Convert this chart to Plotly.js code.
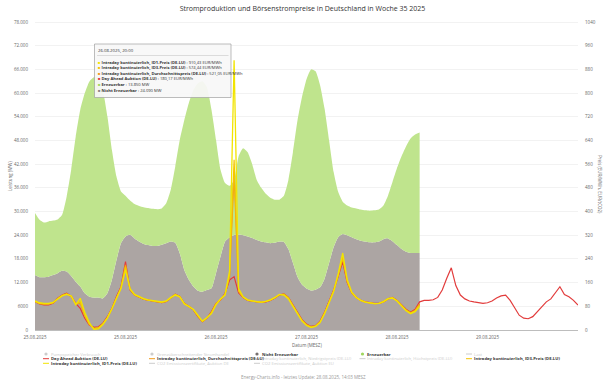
<!DOCTYPE html>
<html><head><meta charset="utf-8">
<script src="https://cdn.plot.ly/plotly-3.0.1.min.js"></script>
<style>html,body{margin:0;padding:0;background:#fff}#chart{width:605px;height:383px}</style>
</head><body><div id="chart"></div>
<script>
// Hourly values starting 25.08.2025 00:00
const nichtErneuerbar = [13900,13350,13350,13500,13900,14400,15000,14800,13700,12250,
11000,9300,8450,8200,8200,8000,9300,12700,17700,22000,
23700,24100,23200,22400,21800,21500,21300,21300,21600,22000,
22400,22100,19400,15200,12700,11000,9950,9700,10100,10550,
14400,18600,22400,23500,24090,24200,24000,23700,23300,22800,
22400,22200,22000,22100,22400,22300,20500,17000,13500,11500,
10500,10000,10200,10800,13000,17000,21000,23500,24300,24000,
23500,23000,22600,22400,22200,22200,22400,23000,23200,22500,
21500,20500,19800,19500,19500,19500];
const erneuerbar = [15700,14550,13850,14000,13800,13600,14200,19000,26900,36750,
44800,50700,54450,55800,55600,52800,44800,32900,21200,13100,
10300,8700,8700,9000,9300,9400,9400,9300,9200,10100,
13100,19300,28800,38000,44800,49800,52550,53300,51400,45250,
33800,22000,14800,13000,13850,19800,22000,21300,18700,15200,
13600,12300,11500,10900,10600,11700,17500,28000,39500,47500,
53000,56000,55300,51200,43000,31000,19000,11500,8200,7500,
7500,7800,7900,7900,8000,8100,8100,8500,10800,15000,
19500,23500,26700,29000,30000,30500];
const dayAhead = [96,88,85,85,90,107,118,124,113,90,
73,40,17,9,11,23,45,73,113,146,
231,135,118,111,104,101,98,96,92,96,
107,121,113,90,79,68,45,28,40,62,
90,101,124,169,180.17,125,110,100,97,95,
93,95,100,108,118,122,110,85,60,35,
20,12,15,30,60,95,135,180,230,160,
125,110,100,95,92,90,90,95,105,110,
100,85,70,60,70,95,100,100,102,110,
135,175,210,150,118,105,98,95,92,90,
92,98,108,115,118,100,75,50,40,38,
45,62,80,95,105,125,146,120,112,100,84];
const id1Preis = [98,92,90,90,93,105,115,120,115,85,
107,60,25,2,4,18,40,72,105,140,
203,140,120,112,106,102,100,97,95,98,
110,118,112,88,80,70,50,30,42,55,
85,105,118,200,910.43,140,112,102,98,96,
94,97,102,110,120,118,105,80,55,30,
15,8,12,25,55,90,130,190,260,170,
128,110,100,94,91,89,90,96,106,108,
98,82,65,55,62,80];
const id3Preis = [97,90,88,88,92,106,116,122,114,88,
95,50,20,5,7,20,42,72,108,142,
215,138,119,112,105,101,99,96,93,97,
108,120,112,89,80,69,48,29,41,58,
88,103,120,185,574.44,132,111,101,97,95,
93,96,101,109,119,120,108,82,58,32,
17,10,13,27,57,92,132,185,245,165,
126,110,100,94,91,89,90,95,105,109,
99,83,67,57,65,85];
const durchschnittspreis = [96,89,87,87,91,106,117,122,114,89,
90,48,19,6,8,21,43,72,110,143,
220,137,118,111,104,101,98,96,92,96,
107,120,112,89,80,68,47,29,40,60,
89,102,121,178,521.05,130,110,101,97,95,
93,96,101,108,119,121,109,83,59,33,
18,11,14,28,58,93,133,183,240,162,
126,110,100,94,91,89,90,95,105,109,
99,84,68,58,66,88];

const xTickHours = [0,20,40,60,80,100];
const xTickText = ['25.08.2025','25.08.2025','26.08.2025','27.08.2025','28.08.2025','29.08.2025'];
const leftTickVals = [0,6000,12000,18000,24000,30000,36000,42000,48000,54000,60000,66000,72000,78000];
const leftTickText = ['0','6000','12.000','18.000','24.000','30.000','36.000','42.000','48.000','54.000','60.000','66.000','72.000','78.000'];
const rightTickVals = [0,80,160,240,320,400,480,560,640,720,800,880,960,1040];
const rightTickText = ['0','80','160','240','320','400','480','560','640','720','800','880','960','1040'];

const seriesNames = {
  ne: 'Nicht Erneuerbar', er: 'Erneuerbar', da: 'Day Ahead Auktion (DE-LU)',
  id1: 'Intraday kontinuierlich, ID1-Preis (DE-LU)', id3: 'Intraday kontinuierlich, ID3-Preis (DE-LU)',
  avg: 'Intraday kontinuierlich, Durchschnittspreis (DE-LU)'
};
const legendRows = [
  [['Pumpspeicher Verbrauch','circle',null],['Grenzüberschreitender Stromhandel','circle',null],['Nicht Erneuerbar','circle','#77706e'],['Erneuerbar','circle','#9fd65c'],['Last','line',null]],
  [['Day Ahead Auktion (DE-LU)','line','#e23c3c'],['Intraday kontinuierlich, Durchschnittspreis (DE-LU)','line','#f29a1a'],['Intraday kontinuierlich, Niedrigstpreis (DE-LU)','line',null],['Intraday kontinuierlich, Höchstpreis (DE-LU)','line',null],['Intraday kontinuierlich, ID3-Preis (DE-LU)','line','#f5c400']],
  [['Intraday kontinuierlich, ID1-Preis (DE-LU)','line','#f2e400'],['CO2 Emissionszertifikate, Auktion DE','line',null],['CO2 Emissionszertifikate, Auktion EU','line',null]]
];
const tooltipHeader = '26.08.2025, 20:00';
const tooltipRows = [
  ['#f2e400','Intraday kontinuierlich, ID1-Preis (DE-LU)','910,43 EUR/MWh'],
  ['#f5c400','Intraday kontinuierlich, ID3-Preis (DE-LU)','574,44 EUR/MWh'],
  ['#f29a1a','Intraday kontinuierlich, Durchschnittspreis (DE-LU)','521,05 EUR/MWh'],
  ['#e23c3c','Day Ahead Auktion (DE-LU)','180,17 EUR/MWh'],
  ['#9fd65c','Erneuerbar','13.850 MW'],
  ['#8a8381','Nicht Erneuerbar','24.090 MW']
];

function hourToDate(h){
  const d = new Date(Date.UTC(2025,7,25,0,0) + h*3600000);
  return d.toISOString().slice(0,16).replace('T',' ');
}
function timesFor(arr){ return arr.map((_,i)=>hourToDate(i)); }

// pixel helpers (plot area: x 35..578, y 20..330; value 78000 sits at y=22)
const PL=35, PW=543, PB=330, PT=20, PH=PB-PT;
const LEFT_MAX = 78000 * PH / 308;
const RIGHT_MAX = 1040 * PH / 308;
const px = v => (v-PL)/PW;
const py = v => (PB-v)/PH;

const FONT = 'Open Sans, Liberation Sans, sans-serif';

const traces = [
  {x: timesFor(nichtErneuerbar), y: nichtErneuerbar, name: seriesNames.ne, type:'scatter', mode:'lines',
   stackgroup:'one', line:{width:0, shape:'spline', smoothing:0.5}, fillcolor:'#aca5a3', showlegend:false},
  {x: timesFor(erneuerbar), y: erneuerbar, name: seriesNames.er, type:'scatter', mode:'lines',
   stackgroup:'one', line:{width:0, shape:'spline', smoothing:0.5}, fillcolor:'#bfe48d', showlegend:false},
  {x: timesFor(dayAhead), y: dayAhead, name: seriesNames.da, yaxis:'y2', type:'scatter', mode:'lines',
   line:{color:'#e23c3c', width:1.2}, showlegend:false},
  {x: timesFor(durchschnittspreis), y: durchschnittspreis, name: seriesNames.avg, yaxis:'y2', type:'scatter', mode:'lines',
   line:{color:'#f29a1a', width:1.2}, showlegend:false},
  {x: timesFor(id3Preis), y: id3Preis, name: seriesNames.id3, yaxis:'y2', type:'scatter', mode:'lines',
   line:{color:'#f5c400', width:1.2}, showlegend:false},
  {x: timesFor(id1Preis), y: id1Preis, name: seriesNames.id1, yaxis:'y2', type:'scatter', mode:'lines',
   line:{color:'#f2e400', width:1.3}, showlegend:false}
];

const annotations = [];
const shapes = [];

function textAnn(xp, yp, text, opts) {
  return Object.assign({xref:'paper', yref:'paper', x:px(xp), y:py(yp), text:text, showarrow:false,
    xanchor:'center', yanchor:'middle', borderpad:0}, opts || {});
}

annotations.push(textAnn(10, 176, 'Leistung (MW)', {textangle:-90, font:{size:4.5, color:'#666', family:FONT}}));
annotations.push(textAnn(600, 184, 'Preis (EUR/MWh, EUR/tCO2)', {textangle:90, font:{size:4.5, color:'#666', family:FONT}}));
annotations.push(textAnn(307, 345, 'Datum (MESZ)', {font:{size:4.5, color:'#666', family:FONT}}));
annotations.push(textAnn(303, 377, 'Energy-Charts.info - letztes Update: 28.08.2025, 14:03 MESZ', {font:{size:4.5, color:'#999', family:FONT}}));

const colX = [46, 152, 257, 362.5, 469];
const rowY = [354, 358.7, 363.3];
legendRows.forEach((row, r) => {
  row.forEach((item, c) => {
    const [label, sym, color] = item;
    const x0 = colX[c], y0 = rowY[r];
    const col = color || '#cccccc';
    if (sym === 'circle') {
      shapes.push({type:'circle', xref:'paper', yref:'paper', x0:px(x0-1.6), x1:px(x0+1.6), y0:py(y0+1.6), y1:py(y0-1.6),
        fillcolor: col, line:{width:0}});
    } else {
      shapes.push({type:'line', xref:'paper', yref:'paper', x0:px(x0-3), x1:px(x0+3), y0:py(y0), y1:py(y0),
        line:{color: col, width:1}});
    }
    annotations.push(textAnn(x0+3.5, y0, color ? '<b>'+label+'</b>' : label,
      {xanchor:'left', font:{size:4.2, color: color ? '#333' : '#cccccc', family:FONT}}));
  });
});

shapes.push({type:'rect', xref:'paper', yref:'paper', x0:px(94.5), x1:px(231), y0:py(97.5), y1:py(44),
  fillcolor:'rgba(248,248,248,0.93)', line:{color:'#a0a0a0', width:0.7}, layer:'above'});
shapes.push({type:'line', xref:'paper', yref:'paper', x0:px(97), x1:px(228.5), y0:py(55.5), y1:py(55.5),
  line:{color:'#c8c8c8', width:0.6}, layer:'above'});
annotations.push(textAnn(97, 50, tooltipHeader, {xanchor:'left', font:{size:4.3, color:'#333', family:FONT}}));
tooltipRows.forEach((row, i) => {
  annotations.push(textAnn(97, 62 + 5.6*i,
    '<span style="color:'+row[0]+'">■</span> <b>'+row[1]+'</b> : '+row[2],
    {xanchor:'left', font:{size:4.1, color:'#333', family:FONT}}));
});

const layout = {
  width:605, height:383,
  margin:{l:PL, r:605-PL-PW, t:PT, b:383-PB, autoexpand:false},
  paper_bgcolor:'#fff', plot_bgcolor:'#fff',
  font:{family:FONT, size:4.5, color:'#666'},
  title:{text:'Stromproduktion und Börsenstrompreise in Deutschland in Woche 35 2025',
    font:{size:7, color:'#333', family:FONT}, x:0.5, xanchor:'center', y:1-9/383, yanchor:'middle'},
  showlegend:false,
  xaxis:{type:'date', range:[hourToDate(0), hourToDate(120)], automargin:false,
    tickvals: xTickHours.map(hourToDate), ticktext: xTickText,
    showgrid:false, zeroline:false, showline:true, linecolor:'#bdbdbd', linewidth:1,
    ticks:'', tickfont:{size:4.5, color:'#666'}, ticklabelstandoff:3},
  yaxis:{range:[0,LEFT_MAX], tickmode:'array', tickvals:leftTickVals, ticktext:leftTickText, automargin:false,
    showgrid:true, gridcolor:'#ececec', gridwidth:0.7, zeroline:false, showline:false,
    ticks:'', tickfont:{size:4.5, color:'#666'}, ticklabelstandoff:6, ticklabeloverflow:'allow'},
  yaxis2:{range:[0,RIGHT_MAX], tickmode:'array', tickvals:rightTickVals, ticktext:rightTickText, overlaying:'y', side:'right', automargin:false,
    showgrid:false, zeroline:false, showline:false, ticks:'', tickfont:{size:4.5, color:'#666'}, ticklabelstandoff:6, ticklabeloverflow:'allow'},
  annotations: annotations,
  shapes: shapes
};

Plotly.newPlot('chart', traces, layout, {displayModeBar:false, staticPlot:true});
</script>
</body></html>
